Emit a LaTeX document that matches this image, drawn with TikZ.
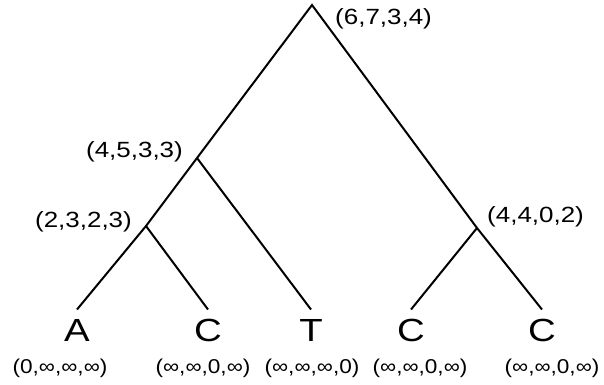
\documentclass[tikz,border=0pt]{standalone}
\usepackage{fontspec}
\setmainfont{Liberation Sans}
\newfontfamily\costfont[FakeStretch=1.18]{Liberation Sans}
\newfontfamily\leafcostfont[FakeStretch=1.13]{Liberation Sans}
\newfontfamily\basefont[FakeStretch=1.2]{Liberation Sans}

\begin{document}
\begin{tikzpicture}[x=1pt,y=1pt,
  branch/.style={line width=2pt},
  cost/.style={font=\costfont\fontsize{22}{26}\selectfont, inner sep=0pt},
  leafcost/.style={font=\leafcostfont\fontsize{20}{24}\selectfont, inner sep=0pt},
  base/.style={font=\basefont\fontsize{32}{38}\selectfont, inner sep=0pt,
    text height=23pt, text depth=0pt, outer ysep=9pt}]
  \useasboundingbox (0,0) rectangle (604,384);
  % internal vertices
  \coordinate (root) at (312,379);
  \coordinate (n1) at (197,226);
  \coordinate (n2) at (146,158);
  \coordinate (n3) at (477,156);
  % leaves
  \node[base] (a)  at (77,54)  {A};
  \node[base] (c1) at (208,54) {C};
  \node[base] (t)  at (311,54) {T};
  \node[base] (c2) at (411,54) {C};
  \node[base] (c3) at (542,54) {C};
  % branches
  \draw[branch] (a.north) -- (n2) -- (n1) -- (root) -- (n3) -- (c3.north);
  \draw[branch] (n2) -- (c1.north);
  \draw[branch] (n1) -- (t.north);
  \draw[branch] (n3) -- (c2.north);
  % cost vectors of the internal vertices
  \node[cost, anchor=west] (rootcost) at (335,365) {(6,7,3,4)};
  \node[cost, anchor=east] (n1cost) at (183,232) {(4,5,3,3)};
  \node[cost, anchor=east] (n2cost) at (132,162) {(2,3,2,3)};
  \node[cost, anchor=west] (n3cost) at (487,167) {(4,4,0,2)};
  % cost vectors of the leaves
  \node[leafcost] (acost)  at (60,16)  {(0,∞,∞,∞)};
  \node[leafcost] (c1cost) at (203,16) {(∞,∞,0,∞)};
  \node[leafcost] (tcost)  at (312,16) {(∞,∞,∞,0)};
  \node[leafcost] (c2cost) at (420,16) {(∞,∞,0,∞)};
  \node[leafcost] (c3cost) at (552,16) {(∞,∞,0,∞)};
\end{tikzpicture}
\end{document}
